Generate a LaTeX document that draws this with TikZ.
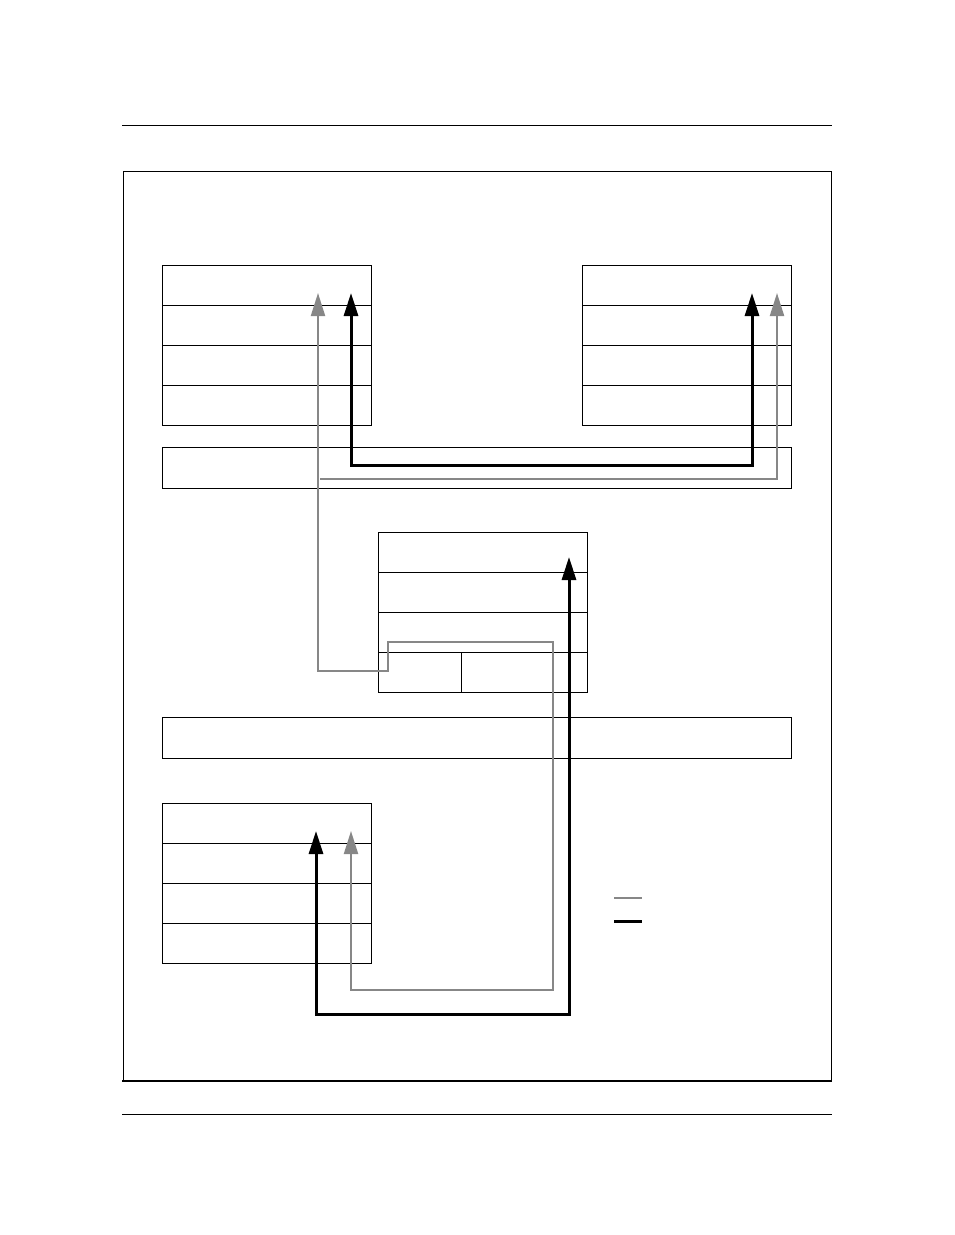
\documentclass[tikz,border=0pt]{standalone}
\usetikzlibrary{arrows.meta}
\definecolor{linkgray}{RGB}{135,135,135}
\begin{document}
\begin{tikzpicture}[x=0.75pt, y=-0.75pt,
  >={Triangle[length=17.25pt, width=10.5pt]},
  cell/.style={draw, line width=0.75pt, inner sep=0pt, outer sep=0pt,
    minimum width=156.75pt, minimum height=30pt, anchor=north west},
  bar/.style={cell, minimum width=471.75pt, minimum height=30.75pt},
  bk/.style={line width=2.25pt, black},
  gr/.style={line width=1.6pt, linkgray}]
  \useasboundingbox (0, 0) rectangle (954, 1235);

  \coordinate (ruleTa) at (122, 125);
  \coordinate (ruleTb) at (832, 125);
  \coordinate (ruleBa) at (122, 1114);
  \coordinate (ruleBb) at (832, 1114);
  \draw[line width=0.75pt] (ruleTa) -- (ruleTb);
  \draw[line width=0.75pt] (ruleBa) -- (ruleBb);

  \draw[line width=0.75pt] (123, 171) rectangle (831, 1081);
  \draw[line width=1.6pt] (122, 1081) -- (832, 1081);

  \node[cell] (lt1) at (162, 265) {};
  \node[cell] (lt2) at (162, 305) {};
  \node[cell] (lt3) at (162, 345) {};
  \node[cell] (lt4) at (162, 385) {};

  \node[cell] (rt1) at (582, 265) {};
  \node[cell] (rt2) at (582, 305) {};
  \node[cell] (rt3) at (582, 345) {};
  \node[cell] (rt4) at (582, 385) {};

  \node[bar] (bar1) at (162, 447) {};

  \node[cell] (m1) at (378, 532) {};
  \node[cell] (m2) at (378, 572) {};
  \node[cell] (m3) at (378, 612) {};
  \node[cell, minimum width=62.25pt] (m4a) at (378, 652) {};
  \node[cell, minimum width=94.5pt] (m4b) at (461, 652) {};

  \node[bar] (bar2) at (162, 717) {};

  \node[cell] (lb1) at (162, 803) {};
  \node[cell] (lb2) at (162, 843) {};
  \node[cell] (lb3) at (162, 883) {};
  \node[cell] (lb4) at (162, 923) {};

  \coordinate (tipLTg) at (318, 293);
  \coordinate (tipLTk) at (351, 293);
  \coordinate (tipRTk) at (752, 293);
  \coordinate (tipRTg) at (777, 293);
  \coordinate (tipMk)  at (569, 557);
  \coordinate (tipLBk) at (316, 831);
  \coordinate (tipLBg) at (351, 831);

  \coordinate (kTop) at (551, 465);
  \coordinate (gSplit) at (320, 479);
  \coordinate (g1) at (388, 671);
  \coordinate (g2) at (553, 642);
  \coordinate (g3) at (553, 990);
  \coordinate (kBot) at (440, 1014);

  \draw[bk, <->] (tipLTk) |- (kTop) -| (tipRTk);
  \draw[gr, ->] (gSplit) -| (tipRTg);
  \draw[gr, <->] (tipLTg) |- (g1) |- (g2) -- (g3) -| (tipLBg);
  \draw[bk, <->] (tipMk) |- (kBot) -| (tipLBk);

  \coordinate (legG1) at (614, 898);
  \coordinate (legG2) at (642, 898);
  \coordinate (legK1) at (614, 921);
  \coordinate (legK2) at (642, 921);
  \draw[gr] (legG1) -- (legG2);
  \draw[bk] (legK1) -- (legK2);
\end{tikzpicture}
\end{document}
